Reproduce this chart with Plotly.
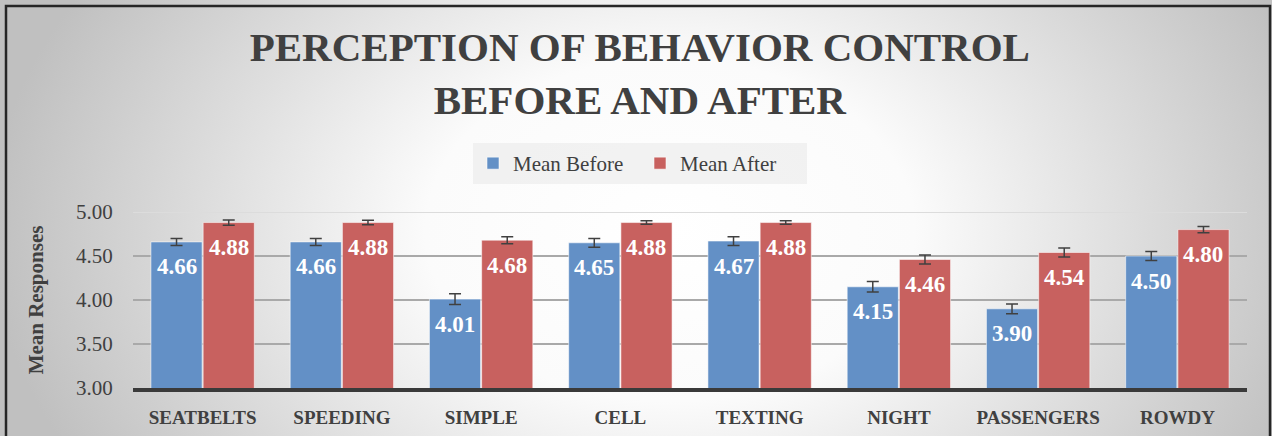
import base64
import plotly.graph_objects as go

categories = ["SEATBELTS", "SPEEDING", "SIMPLE", "CELL", "TEXTING", "NIGHT", "PASSENGERS", "ROWDY"]
mean_before = [4.66, 4.66, 4.01, 4.65, 4.67, 4.15, 3.90, 4.50]
mean_after = [4.88, 4.88, 4.68, 4.88, 4.88, 4.46, 4.54, 4.80]
err_before = [0.04, 0.04, 0.06, 0.05, 0.05, 0.06, 0.055, 0.05]
err_after = [0.03, 0.025, 0.04, 0.02, 0.02, 0.05, 0.05, 0.035]
y_ticks = [3.0, 3.5, 4.0, 4.5, 5.0]
y_tick_labels = ["3.00", "3.50", "4.00", "4.50", "5.00"]

W, H = 1272, 436
ML, MR, MT, MB = 133, 25, 212, 48
PW, PH = W - ML - MR, H - MT - MB

BLUE = "#6390C6"
RED = "#C8615F"
TXT = "#404040"
SERIF = "Liberation Serif"

svg = f'''<svg xmlns="http://www.w3.org/2000/svg" width="{W}" height="{H}" viewBox="0 0 {W} {H}" preserveAspectRatio="none">
<defs><radialGradient id="g" gradientUnits="userSpaceOnUse" cx="670" cy="230" r="680"
 gradientTransform="translate(670 230) scale(1 0.7) translate(-670 -230)">
<stop offset="0" stop-color="#ffffff"/><stop offset="0.36" stop-color="#fbfbfb"/>
<stop offset="1" stop-color="#c0c0c0"/></radialGradient></defs>
<rect width="{W}" height="{H}" fill="url(#g)"/></svg>'''
bg_src = "data:image/svg+xml;base64," + base64.b64encode(svg.encode()).decode()

fig = go.Figure()
fig.add_trace(go.Bar(
    name="Mean Before", x=categories, y=mean_before,
    marker=dict(color=BLUE, line=dict(color="rgba(255,255,255,0.55)", width=1)),
    error_y=dict(type="data", array=err_before, color="#404040", thickness=1.5, width=6),
))
fig.add_trace(go.Bar(
    name="Mean After", x=categories, y=mean_after,
    marker=dict(color=RED, line=dict(color="rgba(255,255,255,0.55)", width=1)),
    error_y=dict(type="data", array=err_after, color="#404040", thickness=1.5, width=6),
))

for series, shift in ((mean_before, -26), (mean_after, 26)):
    for c, v in zip(categories, series):
        fig.add_annotation(x=c, y=v, text=f"{v:.2f}", showarrow=False,
                           xshift=shift, yshift=-25, yanchor="middle",
                           font=dict(family=SERIF, size=23, color="white", weight="bold"))

fig.update_layout(
    width=W, height=H, autosize=False,
    margin=dict(l=ML, r=MR, t=MT, b=MB, autoexpand=False),
    paper_bgcolor="#d0d0d0", plot_bgcolor="rgba(0,0,0,0)",
    barmode="group", bargap=0.25, bargroupgap=0.02,
    title=dict(text="PERCEPTION OF BEHAVIOR CONTROL<br>BEFORE AND AFTER",
               x=0.503, xanchor="center", xref="container",
               y=1 - 61 / H, yanchor="top", yref="container",
               font=dict(family=SERIF, size=41, color=TXT, weight="bold")),
    legend=dict(orientation="h", xref="container", yref="container",
                x=640 / W, xanchor="center",
                y=1 - 143 / H, yanchor="top",
                bgcolor="rgba(236,236,236,0.7)", borderwidth=0,
                font=dict(family=SERIF, size=21, color=TXT),
                itemwidth=30, entrywidth=122, entrywidthmode="pixels",
                traceorder="normal"),
    xaxis=dict(showline=True, linecolor="#3a3a3a", linewidth=4, automargin=False,
               ticks="outside", ticklen=9, tickcolor="rgba(0,0,0,0)",
               tickfont=dict(family=SERIF, size=19, color=TXT, weight="bold"),
               showgrid=False),
    yaxis=dict(range=[3.0, 5.0], tickvals=y_ticks, ticktext=y_tick_labels, automargin=False,
               showgrid=True, gridcolor="#a9a9a9", gridwidth=1.5, zeroline=False,
               ticks="outside", ticklen=15, tickcolor="rgba(0,0,0,0)",
               tickfont=dict(family=SERIF, size=21, color=TXT),
               title=dict(text="Mean Responses", standoff=26,
                          font=dict(family=SERIF, size=21, color=TXT, weight="bold"))),
    images=[dict(source=bg_src, xref="paper", yref="paper",
                 x=-ML / PW, y=1 + MT / PH, sizex=W / PW, sizey=H / PH,
                 xanchor="left", yanchor="top", sizing="stretch", layer="below")],
    showlegend=True,
)

# lighter top gridline at 5.00
fig.add_shape(type="line", xref="paper", yref="y", x0=0, x1=1, y0=5.0, y1=5.0,
              line=dict(color="#dcdcdc", width=2), layer="below")
# outer frame
fig.add_shape(type="rect", xref="paper", yref="paper",
              x0=(6 - ML) / PW, x1=(1270 - ML) / PW,
              y0=1 - (H + 10 - MT) / PH, y1=1 + (MT - 6) / PH,
              line=dict(color="#262626", width=2.5), fillcolor="rgba(0,0,0,0)")

fig.write_html("out.html", config={"displayModeBar": False},
               post_script="document.body.style.margin='0';")
